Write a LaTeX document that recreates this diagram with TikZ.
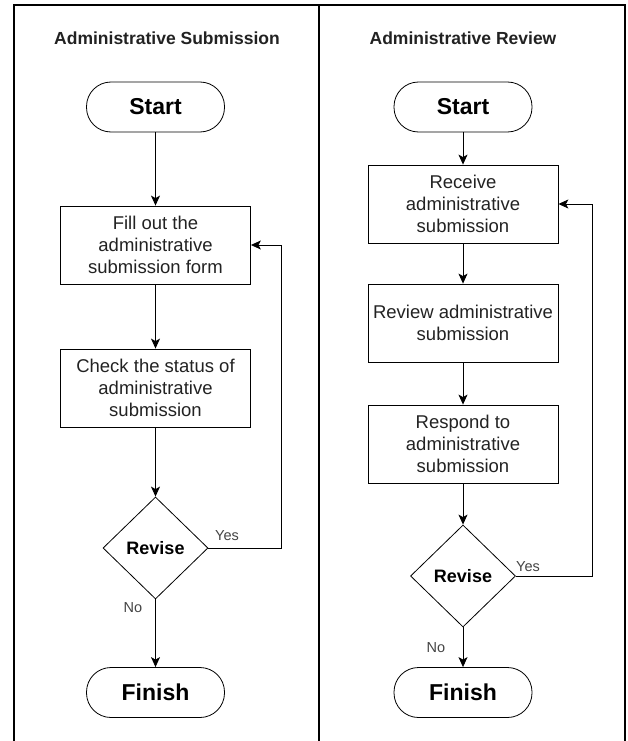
\documentclass[tikz,border=0pt]{standalone}
\usepackage{fontspec}
\setmainfont{Liberation Sans}
\usetikzlibrary{shapes.geometric,arrows.meta}
\definecolor{txt}{HTML}{222222}
\definecolor{lbl}{HTML}{444444}
\begin{document}
\begin{tikzpicture}[x=1pt,y=-1pt,
  frameline/.style={line width=1.3pt, black},
  title/.style={font=\fontsize{17.5}{21}\selectfont\bfseries, text=txt, inner sep=0pt},
  term/.style={draw, rounded corners=24.5pt, minimum width=138pt, minimum height=50pt,
    font=\fontsize{23}{27}\selectfont\bfseries, inner sep=0pt, line width=0.8pt},
  procbox/.style={draw, minimum width=190pt, minimum height=78pt, align=center,
    font=\fontsize{18.5}{22}\selectfont, inner sep=0pt, line width=0.8pt, text=txt},
  decision/.style={draw, diamond, minimum width=105pt, minimum height=102pt, inner sep=0pt,
    font=\fontsize{18}{22}\selectfont\bfseries, line width=0.8pt},
  lblstyle/.style={font=\fontsize{14.5}{17}\selectfont, text=lbl, inner sep=0pt},
  arr/.style={-{Stealth[length=10pt,width=9pt,inset=2.5pt]}, line width=0.9pt, black}
]
\useasboundingbox (0,0) rectangle (627,741);
% frame
\coordinate (ftl) at (14,5);
\coordinate (ftr) at (625,5);
\coordinate (fbl) at (14,741);
\coordinate (fbr) at (625,741);
\coordinate (fmt) at (319,5);
\coordinate (fmb) at (319,741);
\draw[frameline] (fbl) -- (ftl) -- (ftr) -- (fbr);
\draw[frameline] (fmt) -- (fmb);

% left column
\node[title] (t1) at (167,38) {Administrative Submission};
\node[term] (s1) at (155.5,107) {Start};
\node[procbox] (fill) at (155.5,245) {Fill out the\\administrative\\submission form};
\node[procbox] (check) at (155.5,388) {Check the status of\\administrative\\submission};
\node[decision] (d1) at (155.5,548) {Revise};
\node[term] (f1) at (155.5,692.5) {Finish};
\coordinate (loop1) at (281,548);
\draw[arr] (s1) -- (fill);
\draw[arr] (fill) -- (check);
\draw[arr] (check) -- (d1);
\draw[arr] (d1) -- (f1);
\draw[arr] (d1.east) -- (loop1) |- (fill.east);
\node[lblstyle] (yes1) at (227,536) {Yes};
\node[lblstyle] (no1) at (133,608) {No};

% right column
\node[title] (t2) at (463,38) {Administrative Review};
\node[term] (s2) at (463,107) {Start};
\node[procbox] (recv) at (463,204) {Receive\\administrative\\submission};
\node[procbox] (revw) at (463,323) {Review administrative\\submission};
\node[procbox] (resp) at (463,444) {Respond to\\administrative\\submission};
\node[decision] (d2) at (463,576) {Revise};
\node[term] (f2) at (463,692.5) {Finish};
\coordinate (loop2) at (592,576);
\draw[arr] (s2) -- (recv);
\draw[arr] (recv) -- (revw);
\draw[arr] (revw) -- (resp);
\draw[arr] (resp) -- (d2);
\draw[arr] (d2) -- (f2);
\draw[arr] (d2.east) -- (loop2) |- (recv.east);
\node[lblstyle] (yes2) at (528,567) {Yes};
\node[lblstyle] (no2) at (436,648) {No};
\end{tikzpicture}
\end{document}
